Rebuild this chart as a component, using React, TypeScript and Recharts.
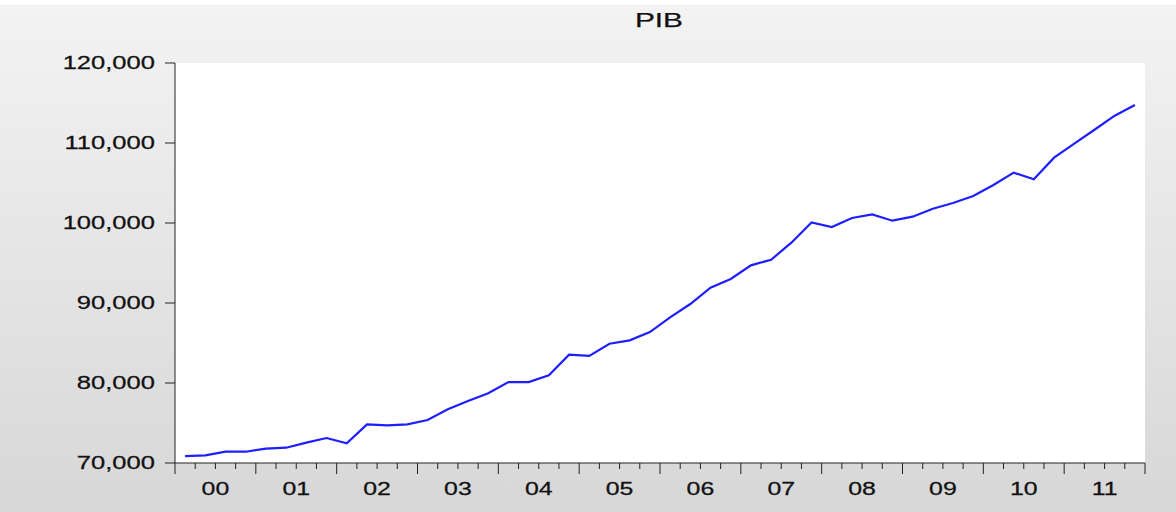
import React from 'react';
import { LineChart, Line, XAxis, YAxis, CartesianGrid } from 'recharts';

// PIB trimestral 2000Q1 - 2011Q4
const years = ['00', '01', '02', '03', '04', '05', '06', '07', '08', '09', '10', '11'];
const pib = [
  70850, 70960, 71410, 71410, 71790, 71910, 72540, 73120,
  72460, 74830, 74710, 74830, 75380, 76710, 77750, 78710,
  80120, 80120, 80960, 83540, 83380, 84910, 85330, 86370,
  88210, 89870, 91910, 93000, 94710, 95410, 97540, 100080,
  99500, 100620, 101080, 100290, 100790, 101790, 102500, 103370,
  104750, 106290, 105460, 108170, 109920, 111660, 113410, 114750,
];
const yTicks = [70000, 80000, 90000, 100000, 110000, 120000];
const quarterTicks = Array.from({ length: years.length * 4 + 1 }, (_, i) => i);
const yearTicks = years.map((_, k) => k * 4 + 2);

const data = pib.map((v, i) => ({ q: i + 0.5, pib: v }));

const FONT = '"Liberation Sans", Arial, sans-serif';
const INK = '#111';

const YTick = ({ x, y, payload }: any) => (
  <text
    transform={`translate(${x},${y}) scale(1.42,1)`}
    textAnchor="end"
    dominantBaseline="central"
    fontSize={18}
    fontFamily={FONT}
    fill={INK}
    stroke={INK}
    strokeWidth={0.25}
  >
    {Number(payload.value).toLocaleString('en-US')}
  </text>
);

const QuarterTick = ({ x, y, payload }: any) => (
  <line
    x1={x}
    x2={x}
    y1={y}
    y2={y + (payload.value % 4 === 0 ? 11 : 6)}
    stroke="#222"
    strokeWidth={1}
  />
);

const YearTick = ({ x, y, payload }: any) => (
  <text
    transform={`translate(${x},${y + 14}) scale(1.38,1)`}
    textAnchor="middle"
    dominantBaseline="central"
    fontSize={18}
    fontFamily={FONT}
    fill={INK}
    stroke={INK}
    strokeWidth={0.25}
  >
    {years[(payload.value - 2) / 4]}
  </text>
);

export default function App() {
  return (
    <div
      style={{
        position: 'absolute',
        left: 0,
        top: 0,
        width: 1176,
        height: 512,
        background: 'linear-gradient(to bottom, #ffffff 0px, #ffffff 5px, #f3f3f3 5px, #d7d7d7 100%)',
      }}
    >
      <div
        style={{
          position: 'absolute',
          left: 0,
          width: 1318,
          top: 7,
          textAlign: 'center',
          fontFamily: FONT,
          fontSize: 21,
          color: INK,
          lineHeight: '26px',
          WebkitTextStroke: '0.25px #111',
        }}
      >
        <span style={{ display: 'inline-block', transform: 'scale(1.42,1)' }}>PIB</span>
      </div>
      <LineChart
        width={1176}
        height={512}
        data={data}
        margin={{ top: 63, right: 31, left: 0, bottom: 0 }}
        style={{ position: 'absolute', left: 0, top: 0 }}
      >
        <CartesianGrid horizontal={false} vertical={false} fill="#ffffff" stroke="none" />
        <XAxis
          xAxisId="q"
          dataKey="q"
          type="number"
          domain={[0, 48]}
          allowDataOverflow
          ticks={quarterTicks}
          interval={0}
          tick={<QuarterTick />}
          tickLine={false}
          tickSize={0}
          tickMargin={0}
          axisLine={{ stroke: '#222' }}
          height={12}
        />
        <XAxis
          xAxisId="yr"
          dataKey="q"
          type="number"
          domain={[0, 48]}
          allowDataOverflow
          ticks={yearTicks}
          interval={0}
          tick={<YearTick />}
          tickLine={false}
          tickSize={0}
          tickMargin={0}
          axisLine={false}
          height={37}
        />
        <XAxis
          xAxisId="top"
          orientation="top"
          dataKey="q"
          type="number"
          domain={[0, 48]}
          allowDataOverflow
          tick={false}
          tickLine={false}
          axisLine={{ stroke: '#8a8a8a' }}
          height={0}
        />
        <YAxis
          yAxisId="v"
          type="number"
          domain={[70000, 120000]}
          allowDataOverflow
          ticks={yTicks}
          interval={0}
          tick={<YTick />}
          tickSize={10}
          tickMargin={10}
          tickLine={{ stroke: '#222' }}
          axisLine={{ stroke: '#222' }}
          width={175}
        />
        <YAxis
          yAxisId="right"
          orientation="right"
          type="number"
          domain={[70000, 120000]}
          allowDataOverflow
          tick={false}
          tickLine={false}
          axisLine={{ stroke: '#222' }}
          width={0}
        />
        <Line
          xAxisId="q"
          yAxisId="v"
          type="linear"
          dataKey="pib"
          stroke="#1e1eff"
          strokeWidth={2.2}
          dot={false}
          isAnimationActive={false}
        />
      </LineChart>
    </div>
  );
}
